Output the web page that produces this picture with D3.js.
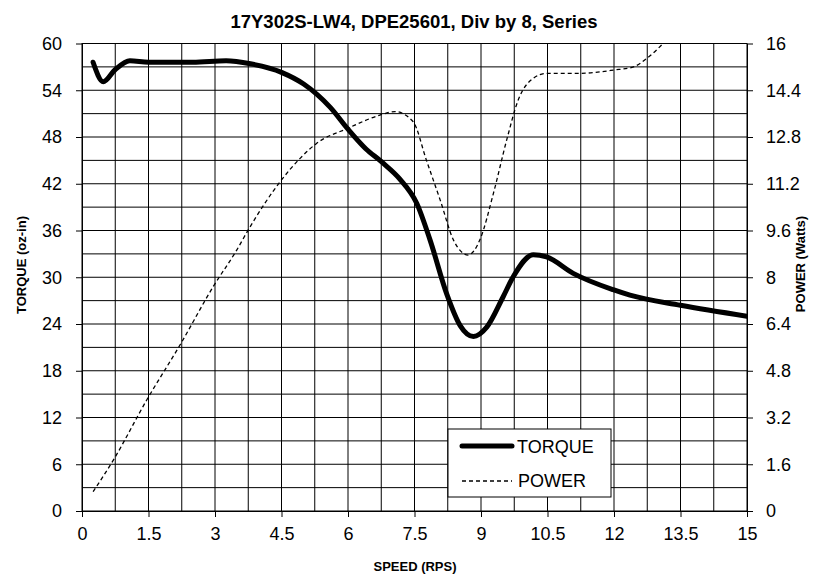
<!DOCTYPE html>
<html>
<head>
<meta charset="utf-8">
<script src="https://cdn.jsdelivr.net/npm/d3@7"></script>
<style>
  body { margin: 0; background: #fff; }
  text { font-family: Arial, "Liberation Sans", sans-serif; fill: #000; }
  .tick text { font-size: 18px; }
  .axis-label { font-size: 13px; font-weight: bold; }
  .title { font-size: 18.5px; font-weight: bold; }
  .grid line { stroke: #000; stroke-width: 1; }
</style>
</head>
<body>
<div id="chart"></div>
<script>
// chart data
const speed_torque = [0.25, 0.48, 0.74, 1.08, 1.5, 2.5, 3.25, 3.8, 4.5, 5.0, 5.6, 6.0, 6.4, 6.76, 7.17, 7.55, 7.85, 8.23, 8.53, 8.83, 9.13, 9.5, 9.73, 10.18, 10.48, 11.08, 11.98, 12.36, 13.5, 15];
const torque = [57.6, 55.1, 56.6, 57.8, 57.6, 57.6, 57.8, 57.4, 56.3, 54.8, 51.8, 49.0, 46.5, 44.8, 42.6, 39.5, 34.8, 27.8, 23.8, 22.4, 23.6, 27.5, 30.1, 32.9, 32.6, 30.5, 28.4, 27.7, 26.4, 25.0];
const speed_power = [0.25, 0.71, 1.46, 2.21, 2.96, 3.49, 3.75, 4.5, 4.92, 5.29, 6.0, 6.72, 7.06, 7.47, 7.77, 8.08, 8.38, 8.71, 8.98, 9.28, 9.58, 9.84, 10.18, 10.48, 11.23, 11.99, 12.44, 12.74, 13.15, 13.5];
const power = [0.66, 1.75, 3.8, 5.68, 7.68, 8.93, 9.62, 11.33, 12.07, 12.58, 13.1, 13.55, 13.67, 13.32, 12.0, 10.64, 9.27, 8.76, 9.3, 10.87, 12.7, 14.07, 14.81, 14.98, 14.98, 15.09, 15.2, 15.49, 16.06, 16.6];

const xTicks = [0, 1.5, 3, 4.5, 6, 7.5, 9, 10.5, 12, 13.5, 15];
const yTicks = [0, 6, 12, 18, 24, 30, 36, 42, 48, 54, 60];
const y2Ticks = [0, 1.6, 3.2, 4.8, 6.4, 8, 9.6, 11.2, 12.8, 14.4, 16];
const xGrid = d3.range(0.75, 15, 0.75);
const yGrid = d3.range(3, 60, 3);

const chartTitle = '17Y302S-LW4, DPE25601, Div by 8, Series';
const xLabel = 'SPEED (RPS)';
const yLabel = 'TORQUE (oz-in)';
const y2Label = 'POWER (Watts)';

// dimensions
const totalWidth = 822, totalHeight = 576;
const margin = {top: 43.5, right: 75, bottom: 65, left: 82},
    width = totalWidth - margin.left - margin.right,
    height = totalHeight - margin.top - margin.bottom;

// scales
const xScale = d3.scaleLinear().domain([0, 15]).range([0, width]);
const yScale = d3.scaleLinear().domain([0, 60]).range([height, 0]);
const y2Scale = d3.scaleLinear().domain([0, 16]).range([height, 0]);

const svg = d3.select('#chart')
  .append('svg')
    .attr('width', totalWidth)
    .attr('height', totalHeight)
  .append('g')
    .attr('transform', `translate(${margin.left},${margin.top})`);

// clip for lines
svg.append('clipPath').attr('id', 'plotClip')
  .append('rect').attr('x', 0).attr('y', 0).attr('width', width).attr('height', height);

// grids
const grid = svg.append('g').attr('class', 'grid');
grid.selectAll('.vg').data(xGrid).join('line')
  .attr('x1', d => xScale(d)).attr('x2', d => xScale(d))
  .attr('y1', 0).attr('y2', height);
grid.selectAll('.hg').data(yGrid).join('line')
  .attr('y1', d => yScale(d)).attr('y2', d => yScale(d))
  .attr('x1', 0).attr('x2', width);

// plot border
svg.append('rect')
  .attr('width', width).attr('height', height)
  .attr('fill', 'none').attr('stroke', '#000').attr('stroke-width', 1);

// axes
const xAxis = svg.append('g')
  .attr('transform', `translate(0,${height})`)
  .call(d3.axisBottom(xScale).tickValues(xTicks).tickFormat(d3.format('')).tickSize(6).tickSizeOuter(0).tickPadding(10));
const yAxis = svg.append('g')
  .call(d3.axisLeft(yScale).tickValues(yTicks).tickFormat(d3.format('')).tickSize(6).tickSizeOuter(0).tickPadding(14));
const y2Axis = svg.append('g')
  .attr('transform', `translate(${width},0)`)
  .call(d3.axisRight(y2Scale).tickValues(y2Ticks).tickFormat(d3.format('')).tickSize(6).tickSizeOuter(0).tickPadding(13));
svg.selectAll('.domain').attr('stroke', '#000');
svg.selectAll('.tick text').attr('font-family', null).attr('font-size', null);

// lines
const torqueLine = d3.line()
  .x((d, i) => xScale(speed_torque[i]))
  .y(d => yScale(d))
  .curve(d3.curveMonotoneX);
const powerLine = d3.line()
  .x((d, i) => xScale(speed_power[i]))
  .y(d => y2Scale(d))
  .curve(d3.curveMonotoneX);

const lines = svg.append('g').attr('clip-path', 'url(#plotClip)');
lines.append('path')
  .attr('d', powerLine(power))
  .attr('fill', 'none').attr('stroke', '#000').attr('stroke-width', 1.3)
  .attr('stroke-dasharray', '4,3');
lines.append('path')
  .attr('d', torqueLine(torque))
  .attr('fill', 'none').attr('stroke', '#000').attr('stroke-width', 5)
  .attr('stroke-linejoin', 'round').attr('stroke-linecap', 'round');

// legend
const legend = svg.append('g').attr('transform', `translate(${448 - margin.left},${429 - margin.top})`);
legend.append('rect')
  .attr('width', 163).attr('height', 68)
  .attr('fill', '#fff').attr('stroke', '#000').attr('stroke-width', 1);
legend.append('line')
  .attr('x1', 14).attr('x2', 64).attr('y1', 17).attr('y2', 17)
  .attr('stroke', '#000').attr('stroke-width', 5).attr('stroke-linecap', 'round');
legend.append('line')
  .attr('x1', 14).attr('x2', 64).attr('y1', 52).attr('y2', 52)
  .attr('stroke', '#000').attr('stroke-width', 1.3).attr('stroke-dasharray', '4,3');
legend.append('text').attr('x', 69).attr('y', 23.5).attr('font-size', 18).text('TORQUE');
legend.append('text').attr('x', 70).attr('y', 58).attr('font-size', 18).text('POWER');

// title
svg.append('text')
  .attr('class', 'title')
  .attr('text-anchor', 'middle')
  .attr('x', 414 - margin.left).attr('y', 28 - margin.top)
  .text(chartTitle);

// axis labels
svg.append('text')
  .attr('class', 'axis-label')
  .attr('text-anchor', 'middle')
  .attr('transform', `translate(${415 - margin.left},${571 - margin.top})`)
  .text(xLabel);
svg.append('text')
  .attr('class', 'axis-label')
  .attr('text-anchor', 'middle')
  .attr('transform', `translate(${26 - margin.left},${265 - margin.top}) rotate(-90)`)
  .text(yLabel);
svg.append('text')
  .attr('class', 'axis-label')
  .attr('text-anchor', 'middle')
  .attr('transform', `translate(${805 - margin.left},${264 - margin.top}) rotate(-90)`)
  .text(y2Label);
</script>
</body>
</html>
